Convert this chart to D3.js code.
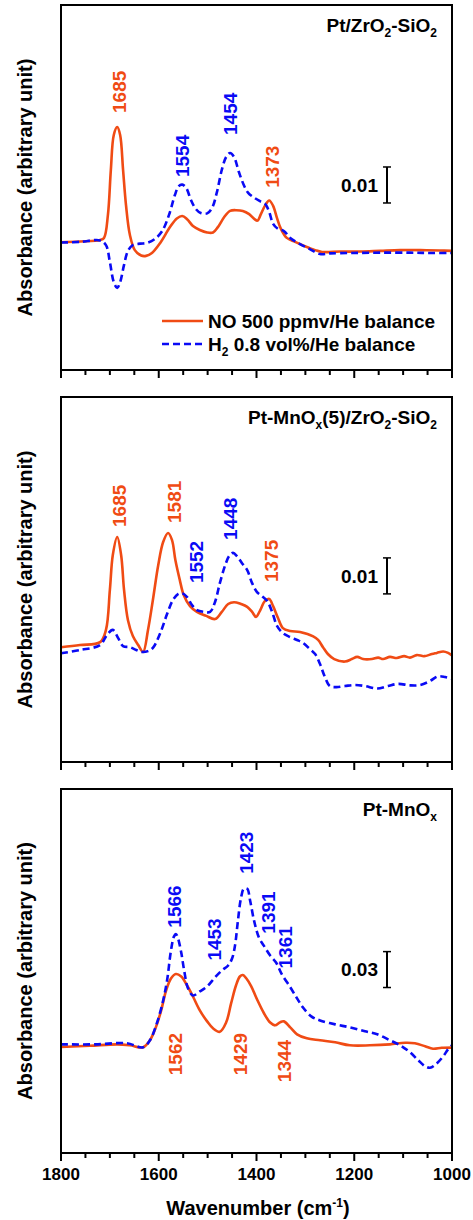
<!DOCTYPE html>
<html>
<head>
<meta charset="utf-8">
<script src="https://cdn.jsdelivr.net/npm/d3@7"></script>
<style>
  body { margin: 0; background: #fff; }
  text { font-family: "Liberation Sans", Arial, sans-serif; font-weight: bold; }
</style>
</head>
<body>
<div id="chart"></div>
<script>
// wavenumber (cm-1), absorbance
var ptZrNO = [[1800,0.0355],[1761,0.0357],[1720,0.0361],[1712,0.0367],[1704,0.0431],[1698,0.0556],[1692,0.0653],[1685,0.0675],[1679,0.0653],[1673,0.0556],[1667,0.0458],[1659,0.0375],[1649,0.0333],[1636,0.0318],[1626,0.0317],[1614,0.0325],[1597,0.0353],[1577,0.0397],[1563,0.0421],[1552,0.0428],[1542,0.0419],[1530,0.0400],[1516,0.0389],[1501,0.0382],[1489,0.0382],[1479,0.0397],[1466,0.0425],[1454,0.0442],[1442,0.0444],[1428,0.0442],[1415,0.0433],[1404,0.0419],[1398,0.0415],[1391,0.0433],[1382,0.0458],[1374,0.0471],[1366,0.0456],[1358,0.0422],[1350,0.0392],[1338,0.0367],[1321,0.0356],[1301,0.0344],[1280,0.0333],[1266,0.0328],[1229,0.0329],[1188,0.0329],[1147,0.0331],[1106,0.0333],[1065,0.0333],[1025,0.0332],[1000,0.0331]];
var ptZrH2 = [[1800,0.0354],[1761,0.0356],[1720,0.0360],[1708,0.0347],[1700,0.0300],[1692,0.0244],[1685,0.0228],[1679,0.0244],[1671,0.0292],[1663,0.0331],[1653,0.0347],[1638,0.0351],[1624,0.0353],[1608,0.0364],[1593,0.0386],[1579,0.0431],[1567,0.0486],[1559,0.0511],[1552,0.0515],[1544,0.0506],[1534,0.0472],[1524,0.0447],[1514,0.0436],[1501,0.0435],[1491,0.0450],[1481,0.0494],[1471,0.0556],[1462,0.0592],[1454,0.0603],[1446,0.0592],[1436,0.0550],[1426,0.0514],[1417,0.0492],[1404,0.0478],[1393,0.0469],[1382,0.0461],[1374,0.0439],[1366,0.0406],[1356,0.0392],[1344,0.0386],[1331,0.0367],[1311,0.0350],[1291,0.0336],[1270,0.0322],[1250,0.0324],[1205,0.0325],[1147,0.0326],[1086,0.0326],[1045,0.0325],[1000,0.0325]];

var ptMnZrNO = [[1800,0.0319],[1761,0.0325],[1720,0.0333],[1708,0.0367],[1700,0.0478],[1694,0.0575],[1685,0.0625],[1677,0.0575],[1671,0.0478],[1663,0.0394],[1653,0.0350],[1642,0.0325],[1632,0.0306],[1622,0.0367],[1612,0.0450],[1601,0.0547],[1591,0.0611],[1581,0.0636],[1573,0.0617],[1566,0.0561],[1557,0.0506],[1549,0.0464],[1536,0.0433],[1522,0.0417],[1503,0.0406],[1485,0.0397],[1471,0.0417],[1458,0.0439],[1446,0.0444],[1432,0.0439],[1419,0.0431],[1409,0.0417],[1401,0.0403],[1393,0.0420],[1383,0.0447],[1374,0.0453],[1366,0.0433],[1356,0.0400],[1346,0.0372],[1331,0.0364],[1311,0.0361],[1284,0.0349],[1274,0.0339],[1264,0.0319],[1254,0.0300],[1241,0.0286],[1219,0.0279],[1205,0.0286],[1194,0.0292],[1182,0.0286],[1164,0.0286],[1151,0.0290],[1141,0.0286],[1127,0.0292],[1113,0.0289],[1098,0.0294],[1086,0.0290],[1072,0.0297],[1057,0.0294],[1041,0.0300],[1031,0.0303],[1018,0.0307],[1008,0.0303],[1000,0.0296]];
var ptMnZrH2 = [[1800,0.0302],[1761,0.0311],[1720,0.0325],[1706,0.0353],[1694,0.0367],[1683,0.0344],[1673,0.0322],[1659,0.0319],[1646,0.0311],[1636,0.0306],[1622,0.0308],[1612,0.0317],[1597,0.0358],[1583,0.0411],[1571,0.0450],[1560,0.0467],[1552,0.0469],[1542,0.0458],[1532,0.0436],[1522,0.0422],[1507,0.0417],[1495,0.0417],[1485,0.0444],[1475,0.0497],[1464,0.0547],[1456,0.0572],[1448,0.0581],[1440,0.0572],[1430,0.0553],[1419,0.0533],[1409,0.0497],[1399,0.0472],[1389,0.0461],[1378,0.0447],[1368,0.0417],[1358,0.0378],[1346,0.0358],[1331,0.0347],[1317,0.0339],[1305,0.0331],[1291,0.0314],[1280,0.0300],[1270,0.0272],[1260,0.0236],[1250,0.0211],[1237,0.0208],[1219,0.0211],[1198,0.0214],[1178,0.0211],[1153,0.0204],[1131,0.0211],[1110,0.0217],[1086,0.0213],[1065,0.0214],[1045,0.0225],[1029,0.0238],[1014,0.0236],[1000,0.0231]];

var ptMnNO = [[1800,0.0886],[1741,0.0896],[1685,0.0908],[1659,0.0900],[1632,0.0883],[1618,0.0942],[1606,0.1050],[1595,0.1192],[1585,0.1358],[1575,0.1458],[1565,0.1496],[1554,0.1475],[1542,0.1400],[1530,0.1308],[1516,0.1192],[1501,0.1100],[1489,0.1042],[1475,0.1013],[1462,0.1092],[1452,0.1250],[1442,0.1400],[1434,0.1475],[1428,0.1488],[1421,0.1460],[1411,0.1395],[1399,0.1285],[1385,0.1170],[1372,0.1090],[1362,0.1067],[1352,0.1092],[1344,0.1100],[1331,0.1050],[1317,0.0992],[1297,0.0958],[1270,0.0942],[1239,0.0925],[1209,0.0900],[1168,0.0900],[1127,0.0908],[1096,0.0921],[1076,0.0917],[1055,0.0892],[1039,0.0871],[1021,0.0879],[1000,0.0881]];
var ptMnH2 = [[1800,0.0908],[1730,0.0908],[1665,0.0917],[1632,0.0883],[1618,0.0942],[1604,0.1083],[1591,0.1275],[1583,0.1442],[1575,0.1692],[1569,0.1808],[1565,0.1829],[1561,0.1800],[1554,0.1675],[1548,0.1525],[1540,0.1375],[1530,0.1317],[1516,0.1350],[1501,0.1392],[1485,0.1467],[1471,0.1525],[1458,0.1567],[1450,0.1625],[1444,0.1733],[1438,0.1942],[1432,0.2125],[1426,0.2208],[1419,0.2208],[1413,0.2108],[1405,0.1942],[1395,0.1800],[1385,0.1733],[1372,0.1650],[1360,0.1592],[1348,0.1492],[1331,0.1386],[1317,0.1292],[1305,0.1217],[1288,0.1142],[1270,0.1108],[1239,0.1075],[1209,0.1050],[1178,0.1017],[1153,0.0992],[1127,0.0942],[1106,0.0900],[1086,0.0842],[1069,0.0775],[1055,0.0725],[1045,0.0713],[1033,0.0742],[1018,0.0808],[1008,0.0867],[1000,0.0900]];

// peak labels: text, wavenumber, absorbance at label start, series
var ptZrPeaks = [["1685",1680,0.0714,"NO"],["1554",1553,0.0536,"H2"],["1454",1453,0.0653,"H2"],["1373",1367,0.0506,"NO"]];
var ptMnZrPeaks = [["1685",1680,0.0653,"NO"],["1581",1568,0.0664,"NO"],["1552",1523,0.0497,"H2"],["1448",1453,0.0617,"H2"],["1375",1371,0.0500,"NO"]];
var ptMnPeaks = [["1566",1568,0.1883,"H2"],["1453",1486,0.1608,"H2"],["1423",1421,0.2333,"H2"],["1391",1377,0.1833,"H2"],["1361",1341,0.1542,"H2"],["1562",1566,0.0650,"NO"],["1429",1433,0.0650,"NO"],["1344",1343,0.0592,"NO"]];

var panelTitles = ["Pt/ZrO_2-SiO_2", "Pt-MnO_x(5)/ZrO_2-SiO_2", "Pt-MnO_x"];
var scaleBars = [0.01, 0.01, 0.03];
var scaleBarTops = [0.0564, 0.0567, 0.1683];
var yMax = [0.1014, 0.1014, 0.3042];
var legendLabels = ["NO 500 ppmv/He balance", "H_2 0.8 vol%/He balance"];
var majorTicks = [1800, 1600, 1400, 1200, 1000];
var minorTicks = d3.range(1750, 1000, -50);

var colors = {NO: "#F04B14", H2: "#0A0AF5"};

var svg = d3.select("#chart").append("svg")
    .attr("width", 473)
    .attr("height", 1220);

var left = 61, right = 452;
var x = d3.scaleLinear().domain([1800, 1000]).range([left, right]);

var panels = [
  {top: 5, bottom: 370, no: ptZrNO, h2: ptZrH2, peaks: ptZrPeaks},
  {top: 397, bottom: 762, no: ptMnZrNO, h2: ptMnZrH2, peaks: ptMnZrPeaks},
  {top: 789, bottom: 1153, no: ptMnNO, h2: ptMnH2, peaks: ptMnPeaks}
];

// write text with "_x" subscripts as tspans
function subText(sel, str, size, subSize) {
  var parts = str.split(/(_\w)/).filter(function(p) { return p; });
  var shift = 0;
  parts.forEach(function(p) {
    if (p[0] === "_") {
      sel.append("tspan").attr("dy", 5 - shift).attr("font-size", subSize).text(p[1]);
      shift = 5;
    } else {
      sel.append("tspan").attr("dy", -shift).attr("font-size", size).text(p);
      shift = 0;
    }
  });
}

panels.forEach(function(p, i) {
  var y = d3.scaleLinear().domain([0, yMax[i]]).range([p.bottom, p.top]);
  var g = svg.append("g");

  var line = d3.line()
      .x(function(d) { return x(d[0]); })
      .y(function(d) { return y(d[1]); })
      .curve(d3.curveCatmullRom.alpha(0.5));

  g.append("path").datum(p.no)
      .attr("d", line)
      .attr("fill", "none")
      .attr("stroke", colors.NO)
      .attr("stroke-width", 2.6);
  g.append("path").datum(p.h2)
      .attr("d", line)
      .attr("fill", "none")
      .attr("stroke", colors.H2)
      .attr("stroke-width", 2.6)
      .attr("stroke-dasharray", "7,4");

  // peak labels
  g.selectAll(".peak")
    .data(p.peaks)
    .enter()
    .append("text")
      .attr("class", "peak")
      .attr("transform", function(d) { return "translate(" + x(d[1]) + "," + y(d[2]) + ") rotate(-90)"; })
      .attr("dy", "0.36em")
      .attr("font-size", 19)
      .attr("fill", function(d) { return colors[d[3]]; })
      .text(function(d) { return d[0]; });

  // scale bar
  var bx = 387;
  var b0 = y(scaleBarTops[i]), b1 = y(scaleBarTops[i] - scaleBars[i]);
  g.append("line").attr("x1", bx).attr("x2", bx).attr("y1", b0).attr("y2", b1)
    .attr("stroke", "#000").attr("stroke-width", 2);
  [b0, b1].forEach(function(yy) {
    g.append("line").attr("x1", bx - 4).attr("x2", bx + 4).attr("y1", yy).attr("y2", yy)
      .attr("stroke", "#000").attr("stroke-width", 1.5);
  });
  g.append("text")
    .attr("x", 378).attr("y", (b0 + b1) / 2)
    .attr("dy", "0.36em")
    .attr("text-anchor", "end")
    .attr("font-size", 19)
    .text(d3.format(".2f")(scaleBars[i]));

  // title
  var t = g.append("text")
    .attr("x", 437).attr("y", p.top + 27)
    .attr("font-size", 19)
    .attr("text-anchor", "end");
  subText(t, panelTitles[i], 19, 12);

  // frame
  g.append("rect")
    .attr("x", left).attr("y", p.top)
    .attr("width", right - left).attr("height", p.bottom - p.top)
    .attr("fill", "none").attr("stroke", "#000").attr("stroke-width", 2);

  // ticks
  g.selectAll(".major").data(majorTicks).enter().append("line")
    .attr("x1", function(d) { return x(d); }).attr("x2", function(d) { return x(d); })
    .attr("y1", p.bottom).attr("y2", p.bottom + 8)
    .attr("stroke", "#000").attr("stroke-width", 2);
  g.selectAll(".minor").data(minorTicks.filter(function(d) { return majorTicks.indexOf(d) < 0; })).enter().append("line")
    .attr("x1", function(d) { return x(d); }).attr("x2", function(d) { return x(d); })
    .attr("y1", p.bottom).attr("y2", p.bottom + 5)
    .attr("stroke", "#000").attr("stroke-width", 2);

  // y label
  g.append("text")
    .attr("transform", "translate(25," + (p.top + p.bottom) / 2 + ") rotate(-90)")
    .attr("dy", "0.36em")
    .attr("text-anchor", "middle")
    .attr("font-size", 20)
    .text("Absorbance (arbitrary unit)");
});

// legend (top panel)
legendLabels.forEach(function(lab, i) {
  var ly = 321 + i * 23;
  svg.append("line")
    .attr("x1", 162).attr("x2", 203).attr("y1", ly).attr("y2", ly)
    .attr("stroke", i === 0 ? colors.NO : colors.H2)
    .attr("stroke-width", 2.6)
    .attr("stroke-dasharray", i === 0 ? null : "7,4");
  var t = svg.append("text").attr("x", 208).attr("y", ly + 7).attr("font-size", 19);
  subText(t, lab, 19, 12);
});

// x tick labels
svg.selectAll(".xlab").data(majorTicks).enter().append("text")
  .attr("x", function(d) { return x(d); })
  .attr("y", 1180)
  .attr("text-anchor", "middle")
  .attr("font-size", 17)
  .text(function(d) { return d; });

var xt = svg.append("text").attr("x", 258).attr("y", 1215).attr("text-anchor", "middle").attr("font-size", 20);
xt.append("tspan").text("Wavenumber (cm");
xt.append("tspan").attr("dy", -8).attr("font-size", 12).text("-1");
xt.append("tspan").attr("dy", 8).text(")");
</script>
</body>
</html>
